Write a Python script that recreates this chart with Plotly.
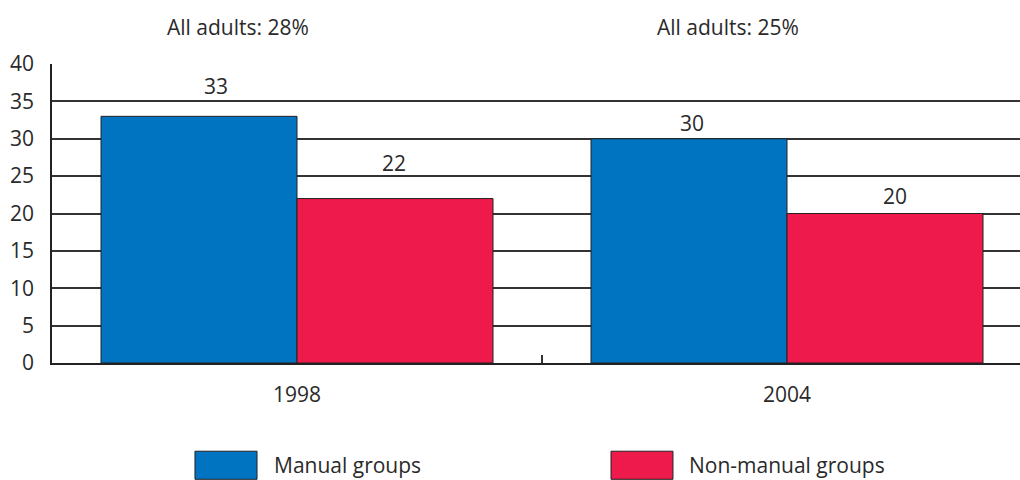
import plotly.graph_objects as go

categories = ["1998", "2004"]
series_names = ["Manual groups", "Non-manual groups"]
manual = [33, 30]
non_manual = [22, 20]
all_adults = ["All adults: 28%", "All adults: 25%"]
colors = ["#0174C1", "#EE1A4B"]
FONT = "Open Sans"
TXT = "#2a2a2a"

# label offsets (px) above each bar, styling only
label_dy = [[30, 16], [36, 18]]
label_dx = [[17, 3], [-1, 10]]

fig = go.Figure()
for s, (name, vals, col) in enumerate(zip(series_names, [manual, non_manual], colors)):
    fig.add_trace(go.Bar(
        x=categories, y=vals, name=name,
        marker=dict(color=col, line=dict(color="#222", width=1)),
    ))
    off = -0.2 if s == 0 else 0.2
    for i, v in enumerate(vals):
        fig.add_annotation(x=i + off, y=v, xref="x", yref="y",
                           xshift=label_dx[s][i], yshift=label_dy[s][i],
                           text=str(v), showarrow=False,
                           xanchor="center", yanchor="middle",
                           font=dict(family=FONT, size=21, color=TXT))

for i, t in enumerate(all_adults):
    fig.add_annotation(x=i - 0.12, y=1, xref="x", yref="paper", yshift=37,
                       text=t, showarrow=False, xanchor="center", yanchor="middle",
                       font=dict(family=FONT, size=21, color=TXT))

# custom legend (large swatches like the reference)
leg = [(0.1477, 0.2118, 0.2273), (0.5775, 0.6415, 0.656)]
for name, col, (x0, x1, xt) in zip(series_names, colors, leg):
    fig.add_shape(type="rect", xref="paper", yref="paper",
                  x0=x0, x1=x1, y0=-0.389, y1=-0.295,
                  fillcolor=col, line=dict(color="#222", width=1))
    fig.add_annotation(x=xt, y=-0.342, xref="paper", yref="paper",
                       text=name, showarrow=False, xanchor="left", yanchor="middle",
                       font=dict(family=FONT, size=21, color=TXT))

fig.update_layout(
    width=1020, height=480,
    margin=dict(l=52, r=0, t=64, b=117, autoexpand=False),
    paper_bgcolor="white", plot_bgcolor="white",
    barmode="group", bargap=0.2, bargroupgap=0,
    showlegend=False,
    font=dict(family=FONT, size=21, color=TXT),
    xaxis=dict(type="category", range=[-0.5, 1.4755], tickson="boundaries",
               ticks="inside", ticklen=8, tickcolor="#333", tickwidth=1.5,
               showline=True, linecolor="#222", linewidth=1.5,
               showgrid=False, ticklabelstandoff=12,
               tickfont=dict(family=FONT, size=21, color=TXT)),
    yaxis=dict(range=[0, 40], tickvals=list(range(0, 45, 5)),
               showgrid=True, gridcolor="#333", gridwidth=1.5,
               showline=True, linecolor="#222", linewidth=1.5,
               zeroline=False, ticks="", ticklabelstandoff=12,
               tickfont=dict(family=FONT, size=21, color=TXT)),
)

fig.write_html("out.html", config={"displayModeBar": False},
               post_script="document.body.style.margin='0';document.body.style.overflow='hidden';")
